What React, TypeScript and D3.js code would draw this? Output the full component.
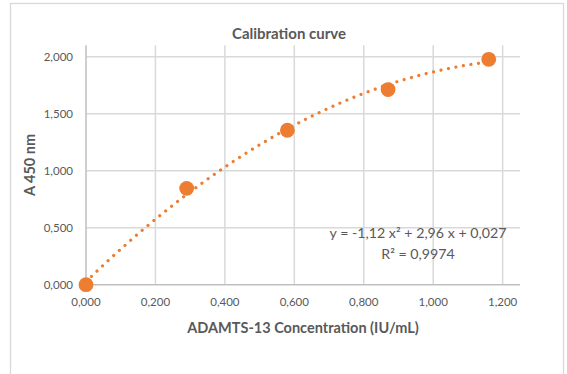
import React from 'react';
import * as d3 from 'd3';

const concentration = [0, 0.29, 0.58, 0.87, 1.16];
const absorbance = [0, 0.845, 1.355, 1.712, 1.977];
const xTicks = [0, 0.2, 0.4, 0.6, 0.8, 1.0, 1.2];
const yTicks = [0, 0.5, 1.0, 1.5, 2.0];
// y = a x² + b x + c, as printed on the chart
const trendCoef = [-1.12, 2.96, 0.027];
const trendLabel = ['y = -1,12 x² + 2,96 x + 0,027', 'R² = 0,9974'];

const W = 567;
const H = 374;
const ORANGE = '#ED7D31';
const GRID = '#d9d9d9';
const TEXT = '#595959';
const FONT = 'Lato, "Open Sans", sans-serif';

const fmt = (v: number) => d3.format('.3f')(v).replace('.', ',');

export default function App() {
  const x = d3.scaleLinear().domain([0, 1.25]).range([86, 520]);
  const y = d3.scaleLinear().domain([0, 2.1]).range([284.7, 45.3]);

  const [a, b, c] = trendCoef;
  const xMax = d3.max(concentration) as number;
  const trendPts = d3.range(0, 101).map((i) => {
    const t = (xMax * i) / 100;
    return [t, a * t * t + b * t + c] as [number, number];
  });
  const trendPath = d3
    .line<[number, number]>()
    .x((d) => x(d[0]))
    .y((d) => y(Math.max(0, d[1])))
    .curve(d3.curveMonotoneX)(trendPts);

  const [x0, x1] = x.range();
  const [y0, y1] = y.range();

  return (
    <svg
      width={W}
      height={H}
      style={{ position: 'fixed', left: 0, top: 0, background: '#fff' }}
      fontFamily={FONT}
    >
      <rect x={10.5} y={3.5} width={553} height={H + 10} fill="#fff" stroke={GRID} strokeWidth={1.3} />

      <text x={289} y={39} textAnchor="middle" fontSize={15} fontWeight="bold" fill={TEXT}>
        Calibration curve
      </text>

      {/* gridlines */}
      {yTicks.slice(1).map((t) => (
        <line key={'gy' + t} x1={x0} x2={x1} y1={y(t)} y2={y(t)} stroke={GRID} strokeWidth={1.5} />
      ))}
      {xTicks.slice(1).map((t) => (
        <line key={'gx' + t} x1={x(t)} x2={x(t)} y1={y0} y2={y1} stroke={GRID} strokeWidth={1.5} />
      ))}
      {/* axes */}
      <line x1={x0} x2={x0} y1={y0} y2={y1} stroke="#bfbfbf" strokeWidth={1.5} />
      <line x1={x0} x2={x1} y1={y0} y2={y0} stroke="#bfbfbf" strokeWidth={1.5} />

      {yTicks.map((t) => (
        <text key={'ly' + t} x={73} y={y(t)} dy="0.35em" textAnchor="end" fontSize={11.5} fill={TEXT}>
          {fmt(t)}
        </text>
      ))}
      {xTicks.map((t) => (
        <text key={'lx' + t} x={x(t)} y={306} textAnchor="middle" fontSize={11.5} fill={TEXT}>
          {fmt(t)}
        </text>
      ))}

      <text
        transform={`translate(35,165) rotate(-90)`}
        textAnchor="middle"
        fontSize={14.5}
        fontWeight="bold"
        fill={TEXT}
      >
        A 450 nm
      </text>
      <text x={303} y={333} textAnchor="middle" fontSize={14.5} fontWeight="bold" fill={TEXT}>
        ADAMTS-13 Concentration (IU/mL)
      </text>

      <path
        d={trendPath || ''}
        fill="none"
        stroke={ORANGE}
        strokeWidth={3.2}
        strokeLinecap="round"
        strokeDasharray="0.01 7.6"
      />

      {concentration.map((cx, i) => (
        <circle key={'p' + i} cx={x(cx)} cy={y(absorbance[i])} r={7.4} fill={ORANGE} />
      ))}

      {trendLabel.map((s, i) => (
        <text key={'tl' + i} x={418} y={238 + i * 21} textAnchor="middle" fontSize={14.2} fill={TEXT}>
          {s}
        </text>
      ))}
    </svg>
  );
}
